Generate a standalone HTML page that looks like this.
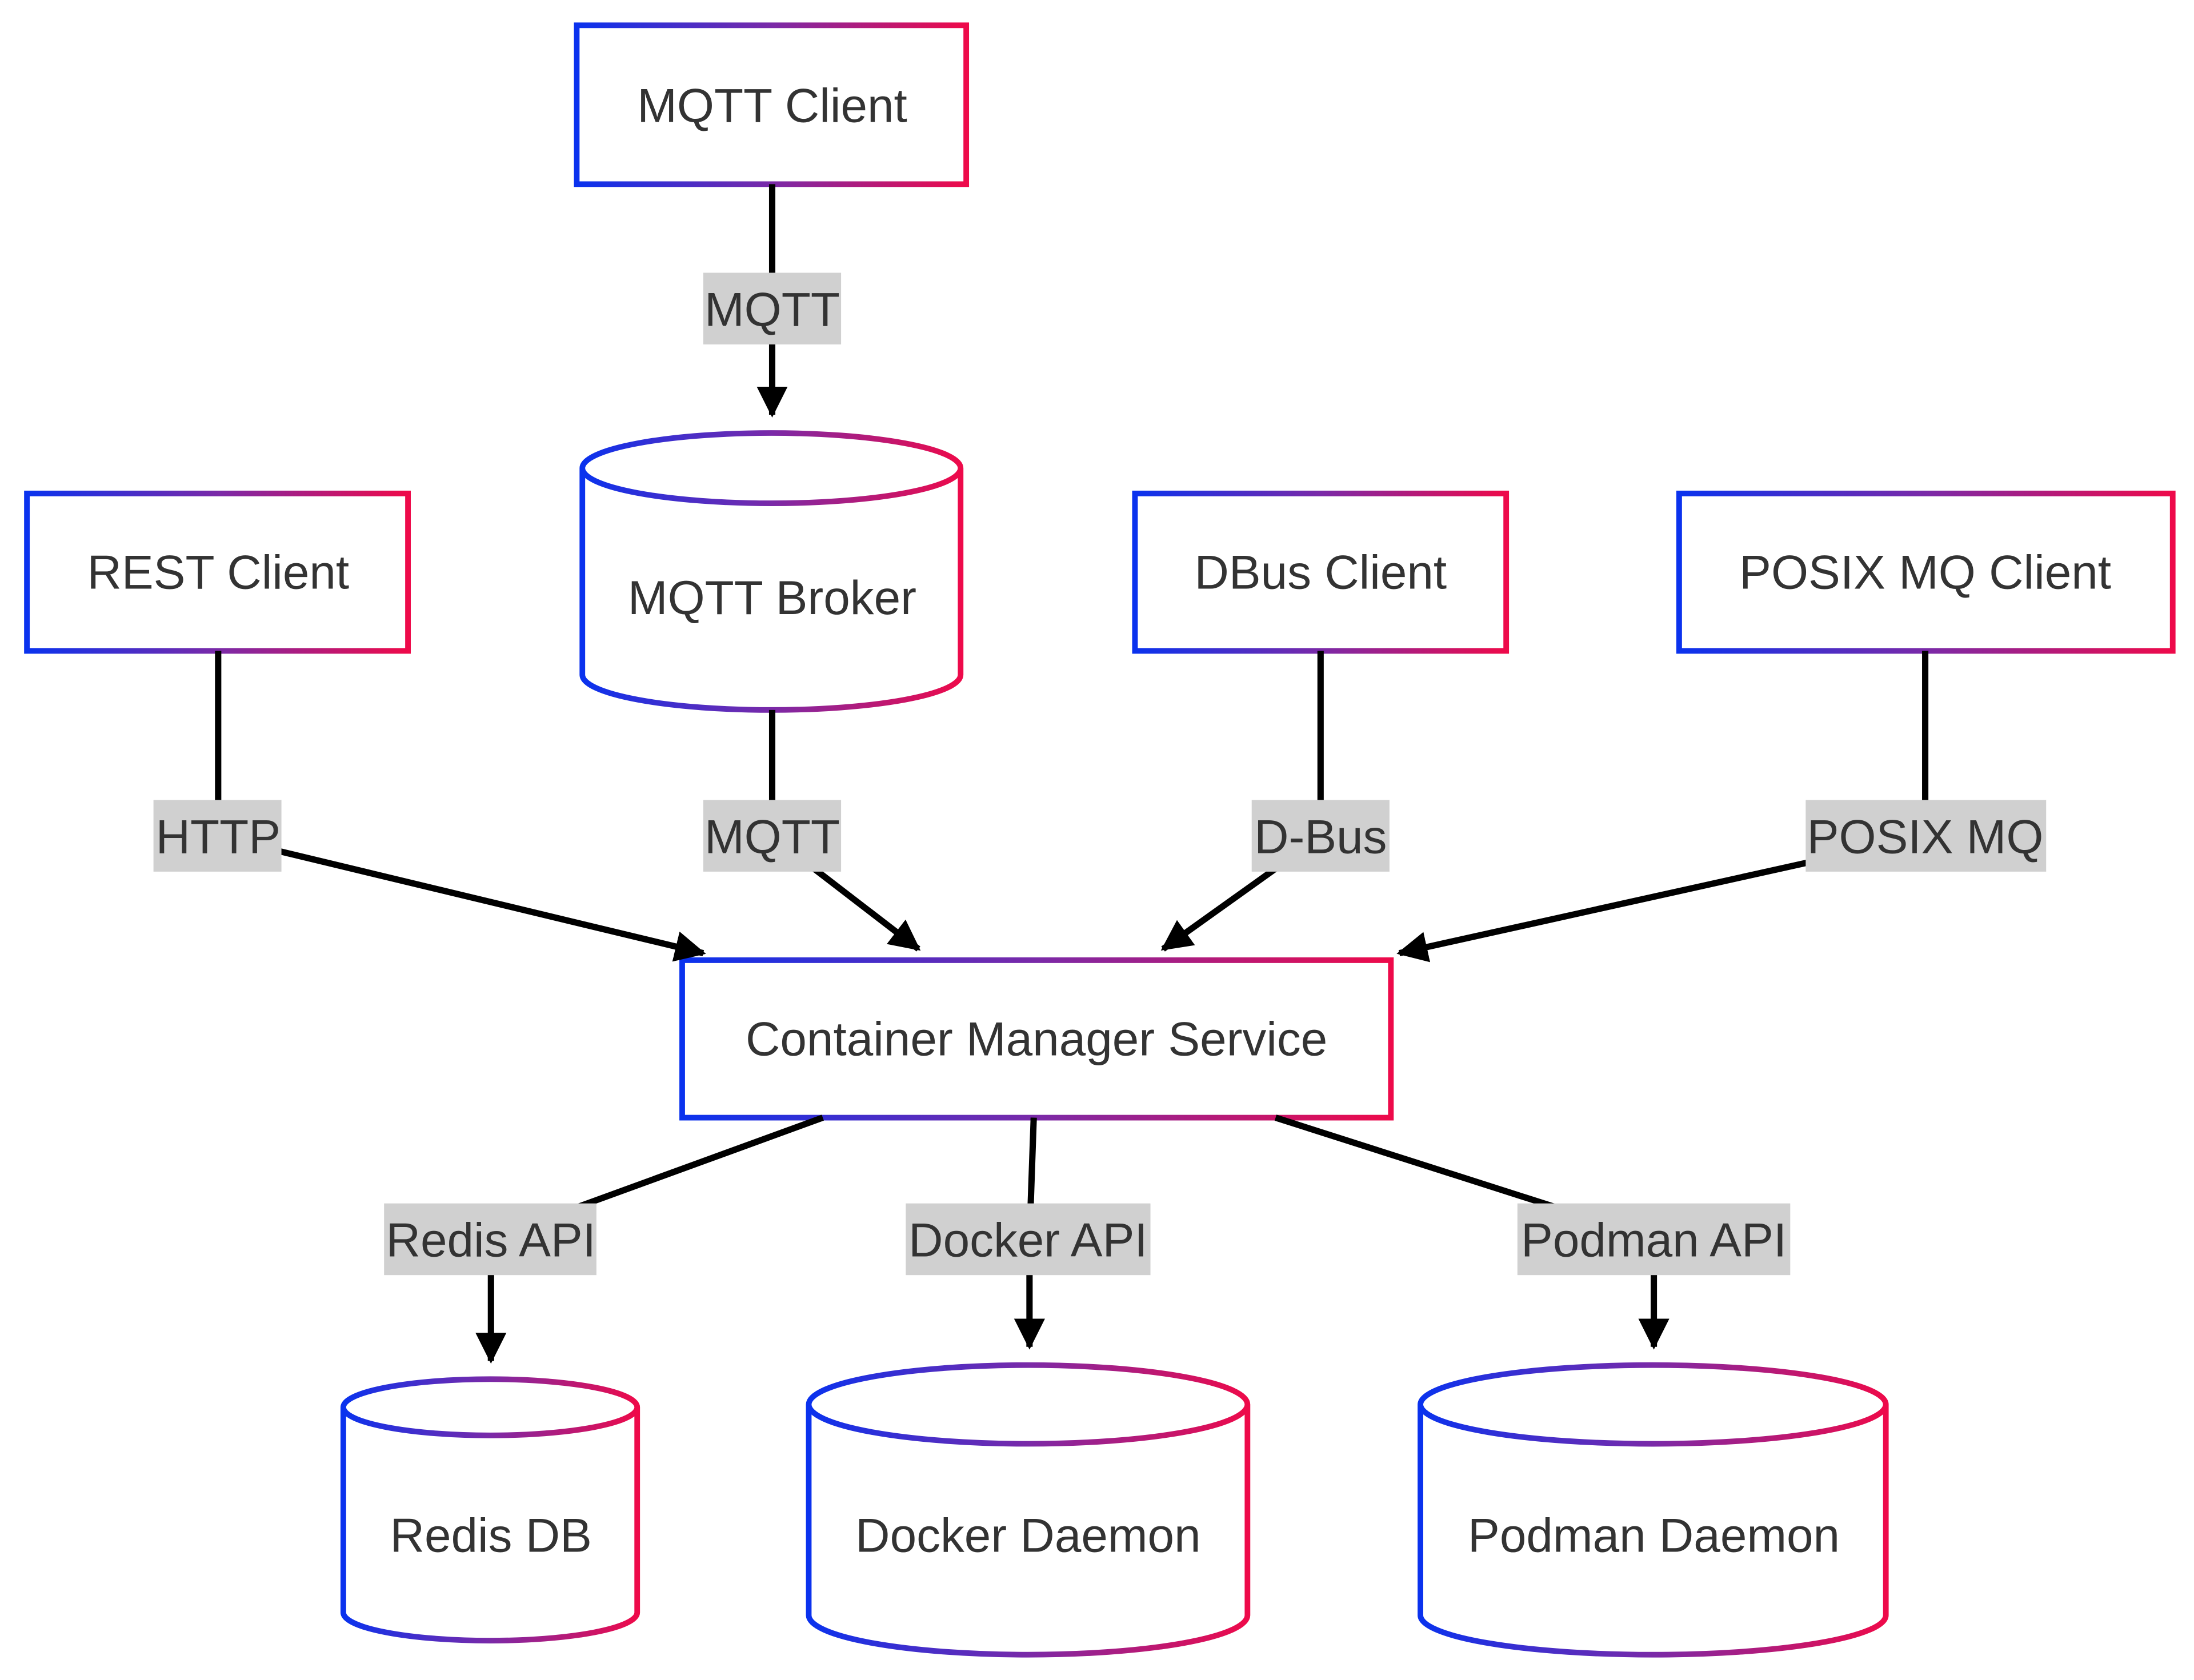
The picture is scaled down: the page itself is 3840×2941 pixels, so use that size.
<!DOCTYPE html>
<html><head><meta charset="utf-8"><style>
html,body{margin:0;padding:0;background:#fff}
svg{display:block}
text{font-family:"Liberation Sans",sans-serif;fill:#333;font-size:34px;text-anchor:middle;dominant-baseline:central}
</style></head><body>
<svg width="3840" height="2941" viewBox="0 0 1560 1195" xmlns="http://www.w3.org/2000/svg">
<defs>
<linearGradient id="g" x1="0" y1="0" x2="1" y2="0"><stop offset="0" stop-color="#0a32ee"/><stop offset="0.5" stop-color="#7a2aa8"/><stop offset="1" stop-color="#ee0a4a"/></linearGradient>
<marker id="a" markerWidth="24" markerHeight="24" refX="20" refY="11" orient="auto" markerUnits="userSpaceOnUse"><path d="M0,0 L22,11 L0,22 Z" fill="#000"/></marker>
</defs>
<g fill="#fff" stroke="url(#g)" stroke-width="4">
<rect x="410" y="18" width="277" height="113"/>
<rect x="19" y="351" width="271" height="112"/>
<rect x="807" y="351" width="264" height="112"/>
<rect x="1194" y="351" width="351" height="112"/>
<rect x="485" y="683" width="504" height="112"/>
<path d="M414,333 A134.5,25 0 0 1 683,333 L683,480 A134.5,25 0 0 1 414,480 Z M414,333 A134.5,25 0 0 0 683,333"/>
<path d="M244,1001 A104.5,20 0 0 1 453,1001 L453,1147 A104.5,20 0 0 1 244,1147 Z M244,1001 A104.5,20 0 0 0 453,1001"/>
<path d="M575,999 A156,28 0 0 1 887,999 L887,1149 A156,28 0 0 1 575,1149 Z M575,999 A156,28 0 0 0 887,999"/>
<path d="M1010,999 A165.5,28 0 0 1 1341,999 L1341,1149 A165.5,28 0 0 1 1010,1149 Z M1010,999 A165.5,28 0 0 0 1341,999"/>
</g>
<g fill="none" stroke="#000" stroke-width="4.5">
<path d="M549,131 L549,295" marker-end="url(#a)"/>
<path d="M155,463 L155,595 L500,678" marker-end="url(#a)"/>
<path d="M549,505 L549,595 L653,675" marker-end="url(#a)"/>
<path d="M939,463 L939,595 L827,675" marker-end="url(#a)"/>
<path d="M1369,463 L1369,595 L995,678" marker-end="url(#a)"/>
<path d="M585,795 L349,881 L349,968" marker-end="url(#a)"/>
<path d="M735,795 L732,881 L732,958" marker-end="url(#a)"/>
<path d="M907,795 L1176,881 L1176,958" marker-end="url(#a)"/>
</g>
<g fill="#d0d0d0">
<rect x="500" y="194" width="98" height="51"/>
<rect x="109" y="569" width="91" height="51"/>
<rect x="500" y="569" width="98" height="51"/>
<rect x="890" y="569" width="98" height="51"/>
<rect x="1284" y="569" width="171" height="51"/>
<rect x="273" y="856" width="151" height="51"/>
<rect x="644" y="856" width="174" height="51"/>
<rect x="1079" y="856" width="194" height="51"/>
</g>
<text x="549" y="220">MQTT</text>
<text x="155" y="595">HTTP</text>
<text x="549" y="595">MQTT</text>
<text x="939" y="595">D-Bus</text>
<text x="1369" y="595">POSIX MQ</text>
<text x="349" y="882">Redis API</text>
<text x="731" y="882">Docker API</text>
<text x="1176" y="882">Podman API</text>
<text x="549" y="75">MQTT Client</text>
<text x="155" y="407">REST Client</text>
<text x="549" y="425">MQTT Broker</text>
<text x="939" y="407">DBus Client</text>
<text x="1369" y="407">POSIX MQ Client</text>
<text x="737" y="739">Container Manager Service</text>
<text x="349" y="1092">Redis DB</text>
<text x="731" y="1092">Docker Daemon</text>
<text x="1176" y="1092">Podman Daemon</text>
</svg>
</body></html>
